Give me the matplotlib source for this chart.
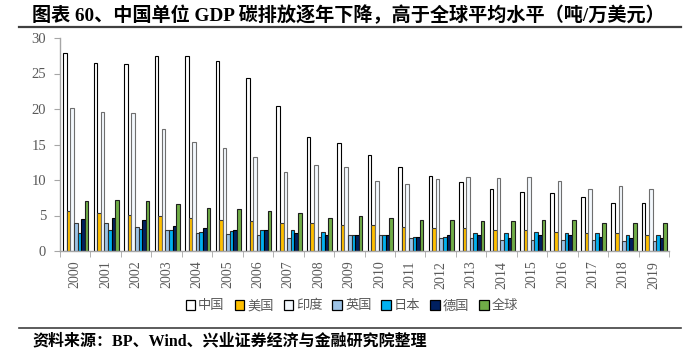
import numpy as np
import matplotlib
matplotlib.use("Agg")
from matplotlib import pyplot as plt
from matplotlib.patches import Patch
from matplotlib.lines import Line2D

years = [str(y) for y in range(2000, 2020)]

china = [27.9, 26.5, 26.4, 27.4, 27.4, 26.7, 24.3, 20.4, 16.1, 15.2,
         13.5, 11.9, 10.5, 9.7, 8.8, 8.3, 8.2, 7.6, 6.8, 6.8]
usa = [5.6, 5.4, 5.1, 5.0, 4.7, 4.4, 4.2, 4.0, 3.9, 3.6,
       3.6, 3.4, 3.2, 3.2, 3.0, 2.9, 2.7, 2.6, 2.5, 2.3]
india = [20.1, 19.6, 19.4, 17.2, 15.4, 14.5, 13.2, 11.1, 12.1, 11.8,
         9.8, 9.5, 10.2, 10.4, 10.3, 10.4, 9.8, 8.8, 9.1, 8.7]
uk = [3.9, 4.0, 3.4, 3.0, 2.6, 2.4, 2.3, 1.9, 2.0, 2.3,
      2.2, 1.9, 1.9, 1.8, 1.5, 1.5, 1.5, 1.5, 1.4, 1.4]
japan = [2.6, 3.0, 3.1, 3.0, 2.7, 2.8, 3.0, 3.0, 2.7, 2.2,
         2.2, 2.0, 2.0, 2.5, 2.6, 2.7, 2.5, 2.5, 2.3, 2.2]
germany = [4.5, 4.6, 4.3, 3.5, 3.2, 3.0, 2.9, 2.5, 2.2, 2.3,
           2.3, 2.0, 2.2, 2.2, 1.9, 2.2, 2.2, 2.0, 1.8, 1.8]
world = [7.1, 7.2, 7.1, 6.6, 6.1, 5.9, 5.6, 5.3, 4.7, 5.0,
         4.7, 4.3, 4.3, 4.2, 4.2, 4.3, 4.3, 4.0, 3.9, 3.9]

names = ["中国", "美国", "印度", "英国", "日本", "德国", "全球"]
series = [china, usa, india, uk, japan, germany, world]
fills = ["#FFFFFF", "#FFC000", "#F3F8FD", "#9DC3E6", "#00B0F0", "#002060", "#70AD47"]
edges = ["#000000", "#3A3A3A", "#6E6E6E", "#3A3A3A", "#2A2A2A", "#000000", "#1E1E1E"]

cjk = ["Liberation Serif", "Noto Sans CJK SC"]
gray = "#595959"

fig = plt.figure(figsize=(7, 3.56), dpi=100)
ax = fig.add_axes([60 / 700, 1 - 251 / 356, 609 / 700, 213 / 356])

x = np.arange(len(years))
width = 0.118
for i, (vals, fc, ec) in enumerate(zip(series, fills, edges)):
    offs = (i - 3) * width + 0.02
    ax.bar(x + offs, vals, width, color=fc, edgecolor=ec, linewidth=0.8, zorder=2)

ax.set_xlim(-0.5, len(years) - 0.5)
ax.set_ylim(0, 30)
ax.set_yticks(range(0, 31, 5))
ax.set_xticks(x)
ax.set_xticklabels(years, rotation=90, fontsize=10, color=gray, family="Liberation Serif")
ax.set_xticks(np.arange(-0.5, len(years)), minor=True)
ax.tick_params(axis="x", which="major", length=0, pad=7)
ax.tick_params(axis="x", which="minor", length=4, color="#A6A6A6", direction="out")
ax.tick_params(axis="y", length=4, color="#A6A6A6", labelsize=10.5, labelcolor=gray, pad=6)
for lab in ax.get_yticklabels():
    lab.set_family("Liberation Serif")
for s in ["top", "right"]:
    ax.spines[s].set_visible(False)
for s in ["left", "bottom"]:
    ax.spines[s].set_color("#A6A6A6")
    ax.spines[s].set_linewidth(1.0)

handles = [Patch(facecolor=fc, edgecolor="#000000", linewidth=0.9) for fc in fills]
leg = fig.legend(handles, names, loc="center", bbox_to_anchor=(352 / 700, 1 - 306 / 356),
                 ncol=7, frameon=False, handlelength=0.7, handleheight=0.7,
                 handletextpad=0.25, columnspacing=0.75,
                 prop={"family": ["Noto Sans CJK SC"], "size": 9.5})
for t in leg.get_texts():
    t.set_color(gray)

fig.text(32 / 700, 1 - 15 / 356,
         "图表 60、中国单位 GDP 碳排放逐年下降，高于全球平均水平（吨/万美元）",
         family=cjk, fontsize=13.8, fontweight="bold", va="center", ha="left")
fig.add_artist(Line2D([19 / 700, 681 / 700], [1 - 27 / 356, 1 - 27 / 356],
                      color="#404040", linewidth=1.6))
fig.add_artist(Line2D([19 / 700, 681 / 700], [1 - 328 / 356, 1 - 328 / 356],
                      color="#404040", linewidth=1.2))
fig.text(32 / 700, 1 - 341 / 356, "资料来源：BP、Wind、兴业证券经济与金融研究院整理",
         family=cjk, fontsize=11.5, fontweight="bold", va="center", ha="left")

fig.savefig("out.png", dpi=100)
